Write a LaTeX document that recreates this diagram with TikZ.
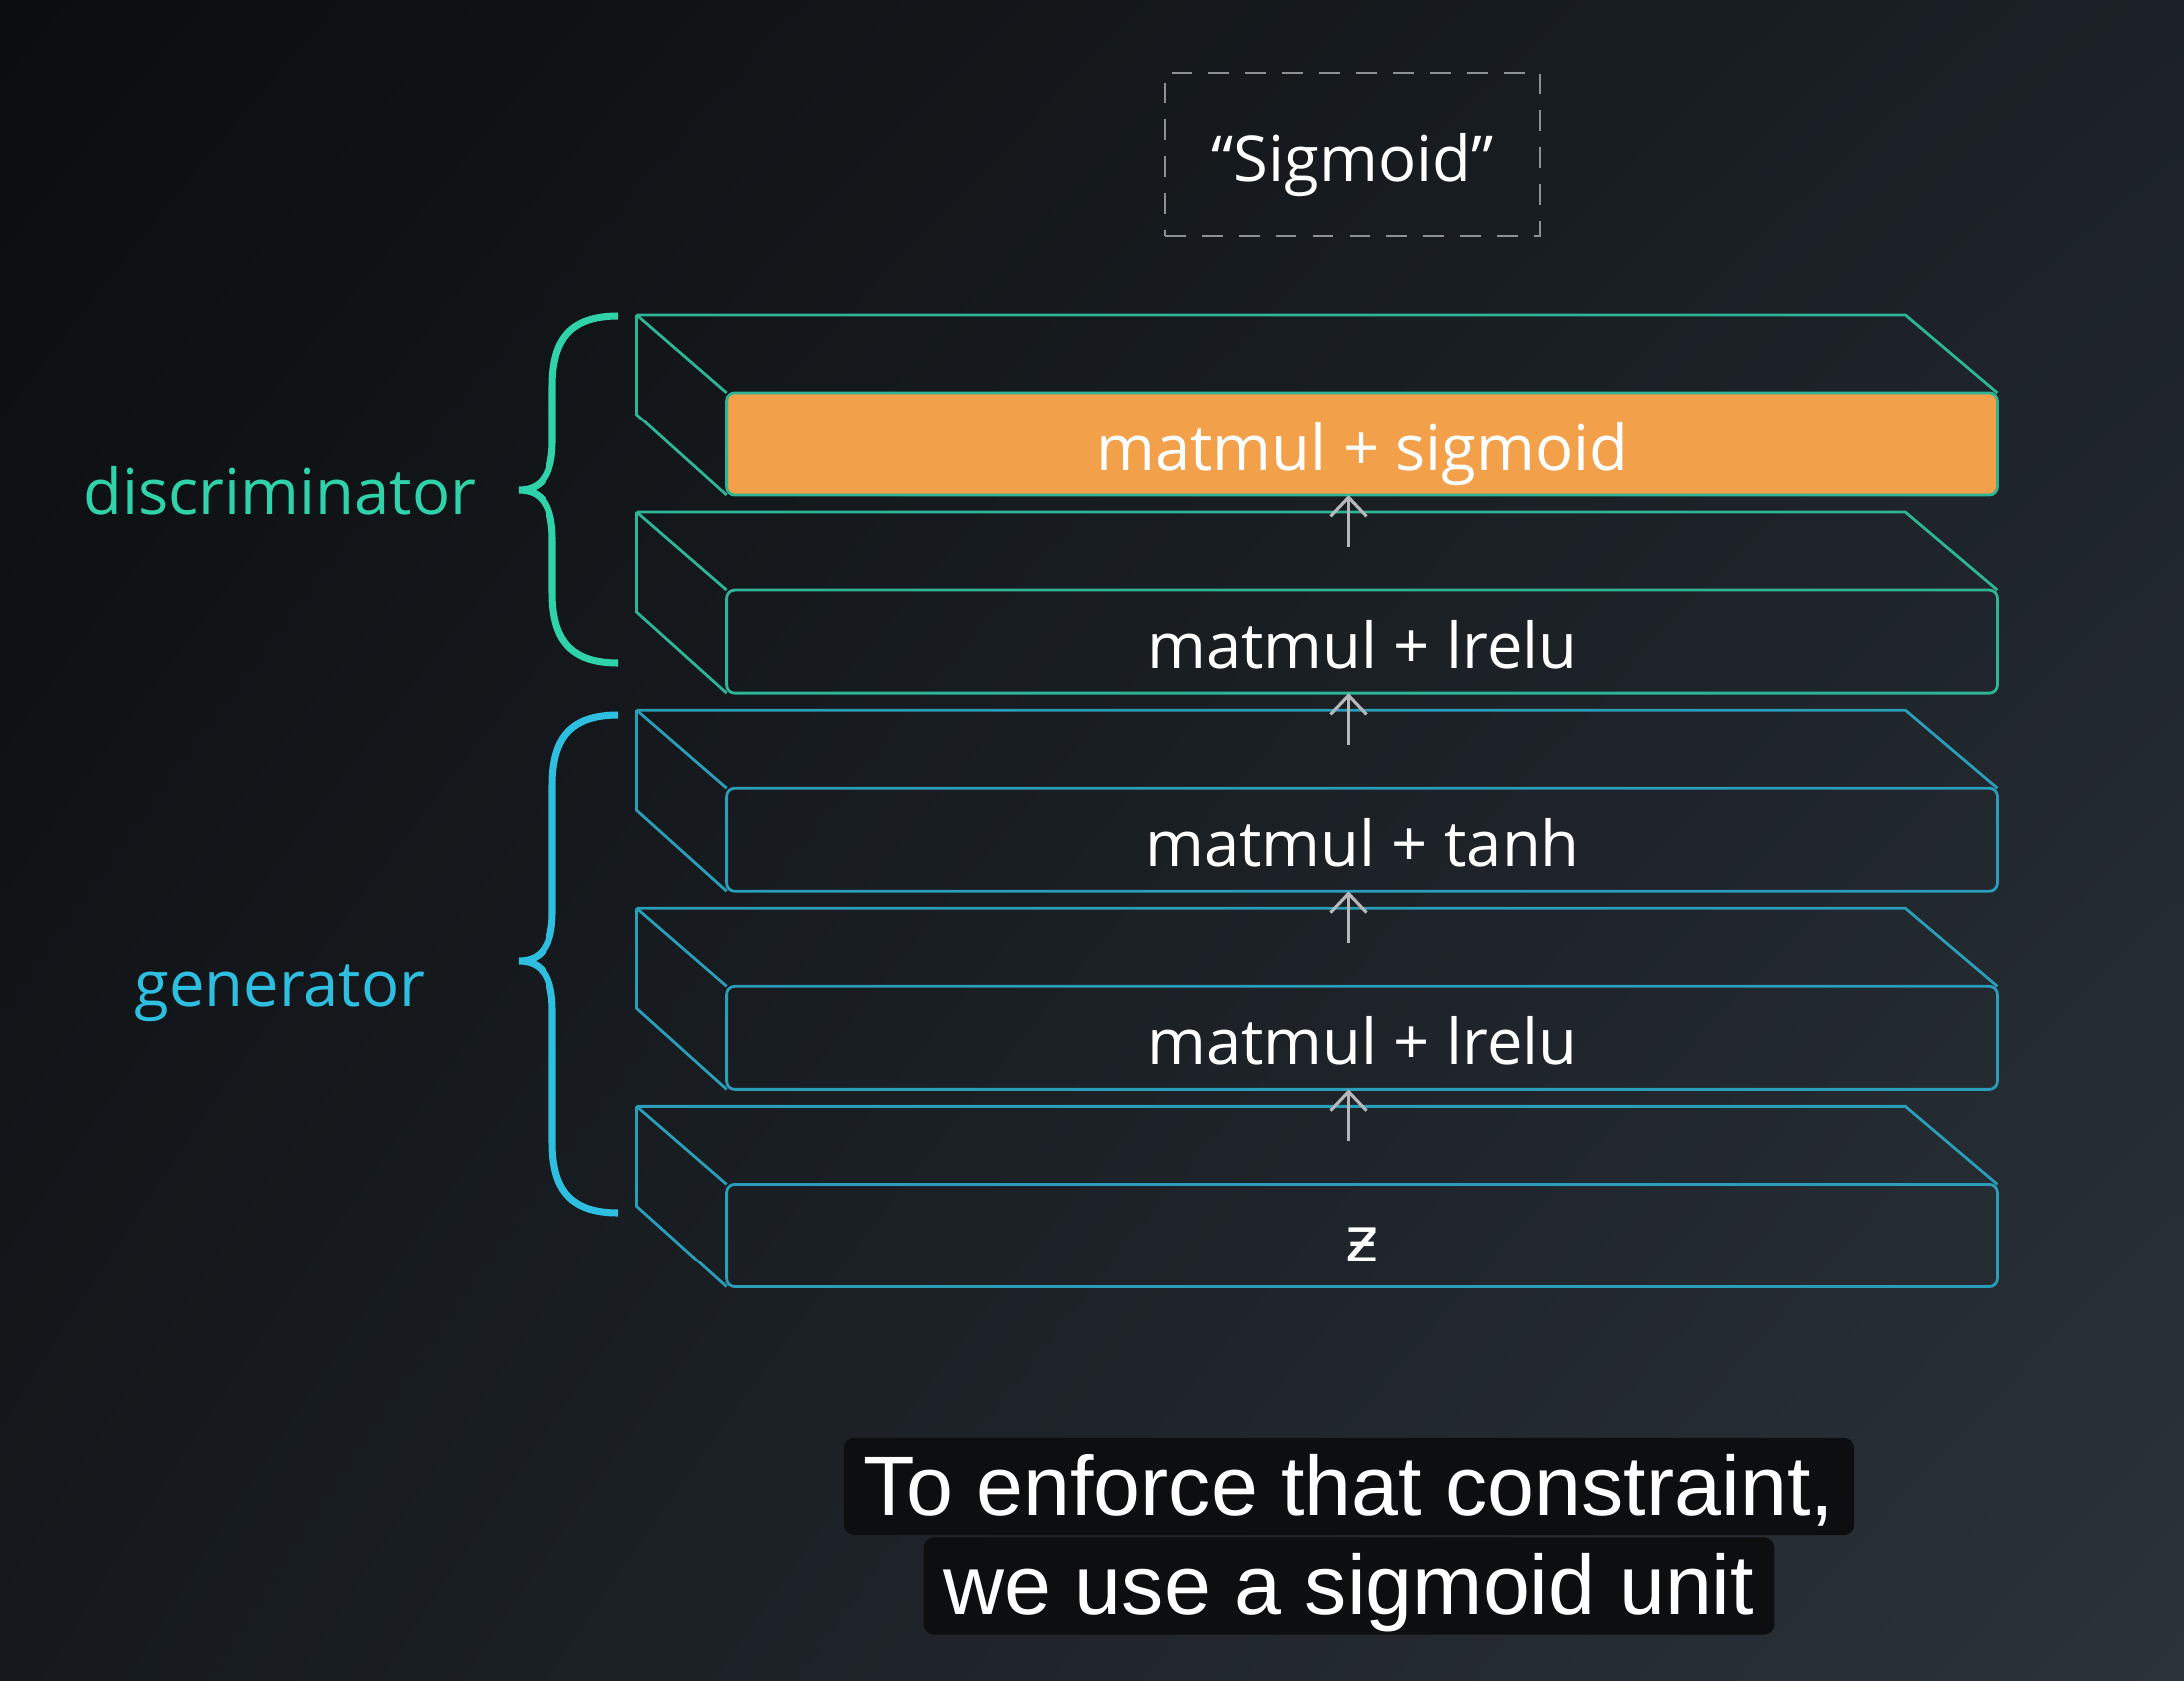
\documentclass[tikz,border=0pt]{standalone}
\usepackage{fontspec}
\usepackage{tikz}
\usetikzlibrary{positioning,arrows.meta,shadings}
\usepackage{xcolor}
\setmainfont{Open Sans}
\newfontfamily\capfont{Liberation Sans}
\newfontfamily\zfont{DejaVu Sans}

\definecolor{bgul}{HTML}{0B0D0F}
\definecolor{bgur}{HTML}{1B2126}
\definecolor{bgll}{HTML}{15191D}
\definecolor{bglr}{HTML}{2B333A}
\definecolor{discgreen}{HTML}{30D2A9}
\definecolor{discline}{HTML}{2EB595}
\definecolor{gencyan}{HTML}{2EBEDF}
\definecolor{genline}{HTML}{2A9DB8}
\definecolor{sigorange}{HTML}{F2A04A}
\definecolor{flowgray}{HTML}{B5B7B9}
\definecolor{dashgray}{HTML}{8E9194}
\definecolor{capblack}{HTML}{0D0E0F}

\tikzset{
  slide/.style={font=\fontsize{18}{20}\selectfont},
  layer/.style={draw=#1, line width=0.8pt, rounded corners=0.8mm,
    minimum width=12.71cm, minimum height=1.03cm, inner sep=0pt, outer sep=0pt,
    text height=5.3mm, text depth=0mm, slide, text=white},
  edge/.style={draw=#1, line width=0.8pt},
  flow/.style={->, draw=flowgray, line width=0.9pt},
  curly/.style={draw=#1, line width=2pt},
  capbox/.style={fill=capblack, rounded corners=1mm, inner xsep=0.2cm,
    inner ysep=0pt, minimum height=0.97cm, text height=5.7mm, text depth=0mm,
    font=\capfont\fontsize{24}{26}\selectfont, text=white},
}

% back and side faces of a layer
\newcommand{\layerback}[2]{%
  \draw[edge=#2] ([xshift=-9mm,yshift=7.8mm]#1.north west) coordinate (#1-tl)
    -- ([xshift=-9.2mm,yshift=7.8mm]#1.north east) -- (#1.north east);
  \draw[edge=#2] (#1-tl) -- (#1.north west);
  \draw[edge=#2] (#1-tl) -- ++(0mm,-10mm) -- (#1.south west);
}
% curly brace: colour, top, tip, bottom
\newcommand{\curlybrace}[4]{%
  \draw[curly=#1] (619,#2) .. controls (570,#2) and (553,#2+25) .. (553,#2+70)
    -- (553,#3-50) .. controls (553,#3-15) and (542,#3) .. (519,#3)
    .. controls (542,#3) and (553,#3+15) .. (553,#3+50)
    -- (553,#4-70) .. controls (553,#4-25) and (570,#4) .. (619,#4);
}

\begin{document}
\begin{tikzpicture}[x=0.01cm,y=-0.01cm,>={Straight Barb[length=1.9mm,width=3.6mm]},node distance=0.95cm]
\shade[upper left=bgul,upper right=bgur,lower left=bgll,lower right=bglr] (0,0) rectangle (2186,1682);
\useasboundingbox (0,0) rectangle (2186,1682);

% output label
\node[draw=dashgray, dash pattern=on 5.9pt off 4.6pt, line width=0.6pt,
  minimum width=3.75cm, minimum height=1.63cm, text height=5.3mm, text depth=0mm,
  slide, text=white] (sigmoid) at (1353.5,154.5) {“Sigmoid”};

% layers
\node[layer=discline, fill=sigorange] (sig) at (1363.5,444.5) {matmul + sigmoid};
\node[layer=discline, below=of sig] (dlrelu) {matmul + lrelu};
\node[layer=genline, below=of dlrelu] (tanh) {matmul + tanh};
\node[layer=genline, below=of tanh] (glrelu) {matmul + lrelu};
\node[layer=genline, below=of glrelu] (z) {\zfont ƶ};

\layerback{sig}{discline}
\layerback{dlrelu}{discline}
\layerback{tanh}{genline}
\layerback{glrelu}{genline}
\layerback{z}{genline}

\draw[flow] ([xshift=-1.4mm,yshift=4.3mm]dlrelu.north) -- ([xshift=-1.4mm]sig.south);
\draw[flow] ([xshift=-1.4mm,yshift=4.3mm]tanh.north) -- ([xshift=-1.4mm]dlrelu.south);
\draw[flow] ([xshift=-1.4mm,yshift=4.3mm]glrelu.north) -- ([xshift=-1.4mm]tanh.south);
\draw[flow] ([xshift=-1.4mm,yshift=4.3mm]z.north) -- ([xshift=-1.4mm]glrelu.south);

% braces and names
\curlybrace{discgreen}{316}{491}{664}
\curlybrace{gencyan}{716}{962}{1214}
\node[slide, text=discgreen, anchor=base] (disc) at (280,515) {discriminator};
\node[slide, text=gencyan, anchor=base] (gen) at (280,1007) {generator};

% caption
\node[capbox] (capa) at (1350.5,1488.5) {To enforce that constraint,};
\node[capbox, below=0.01cm of capa] (capb) {we use a sigmoid unit};
\end{tikzpicture}
\end{document}
